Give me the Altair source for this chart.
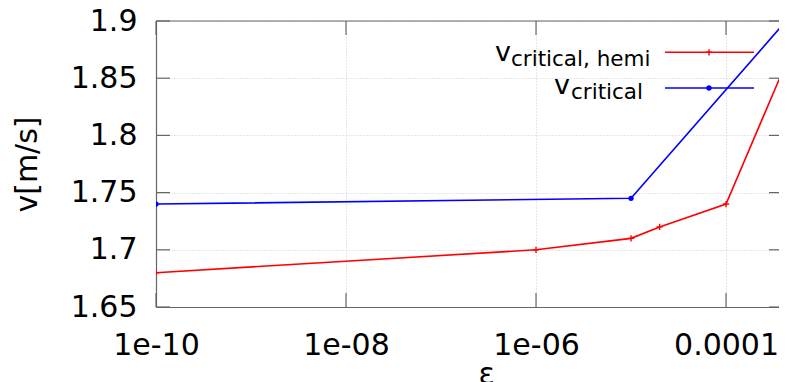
import altair as alt
import pandas as pd

# ---- data ----
eps_hemi = [1e-10, 1e-6, 1e-5, 2e-5, 1e-4, 1e-3]
v_hemi = [1.68, 1.70, 1.71, 1.72, 1.74, 1.935]
eps_crit = [1e-10, 1e-5, 1e-3]
v_crit = [1.74, 1.745, 1.935]

x_ticks = [1e-10, 1e-8, 1e-6, 1e-4]
x_tick_labels = ["1e-10", "1e-08", "1e-06", "0.0001"]
y_ticks = [1.65, 1.7, 1.75, 1.8, 1.85, 1.9]
y_tick_labels = ["1.65", "1.7", "1.75", "1.8", "1.85", "1.9"]

series_symbol = "v"
series_subs = ["critical, hemi", "critical"]
series_colors = ["#ff0000", "#0000ff"]

x_domain = [1e-10, 3.61e-4]
y_domain = [1.65, 1.9]

# ---- layout / style ----
W, H = 623, 286
FONT = "DejaVu Sans"
BORDER = "#666666"
GRID = "#cccccc"
CROSS = "M-1,0L1,0M0,-1L0,1"


def label_expr(values, labels, factor=None, delta=None):
    expr = f"'{labels[-1]}'"
    for v, l in reversed(list(zip(values[:-1], labels[:-1]))):
        thr = v * factor if factor else v + delta
        expr = f"datum.value < {thr!r} ? '{l}' : ({expr})"
    return expr


x_axis = alt.Axis(
    values=x_ticks, labelExpr=label_expr(x_ticks, x_tick_labels, factor=3),
    ticks=False, tickSize=0, domain=True, domainColor=BORDER, domainWidth=1.2,
    grid=True, gridDash=[1, 2],
    gridColor=GRID, gridWidth=1, labelFont=FONT, labelFontSize=30,
    labelColor="black", labelPadding=23, labelFlush=False, labelOverlap=False,
    title="ε", titleFont=FONT, titleFontSize=30, titleFontWeight="normal",
    titleColor="black", titleX=330, titleY=76, titleAlign="center",
    titleBaseline="alphabetic",
)
y_axis = alt.Axis(
    values=y_ticks, labelExpr=label_expr(y_ticks, y_tick_labels, delta=0.01),
    ticks=False, tickSize=0, domain=True, domainColor=BORDER, domainWidth=1.2,
    grid=True, gridDash=[1, 2],
    gridColor=GRID, gridWidth=1, labelFont=FONT, labelFontSize=30,
    labelColor="black", labelPadding=19, labelOverlap=False, labelFlush=False,
    title="v[m/s]", titleFont=FONT, titleFontSize=30, titleFontWeight="normal",
    titleColor="black", titleX=-129, titleY=143, titleAlign="center",
    titleBaseline="middle",
)

X = alt.X("eps:Q", scale=alt.Scale(type="log", domain=x_domain, nice=False), axis=x_axis)
Y = alt.Y("v:Q", scale=alt.Scale(domain=y_domain, nice=False, zero=False), axis=y_axis)

df_h = pd.DataFrame({"eps": eps_hemi, "v": v_hemi})
df_c = pd.DataFrame({"eps": eps_crit, "v": v_crit})
df_xt = pd.DataFrame({"eps": x_ticks})
df_yt = pd.DataFrame({"v": y_ticks})
one = pd.DataFrame({"k": [0]})

line_h = alt.Chart(df_h).mark_line(color=series_colors[0], strokeWidth=1.6, clip=True).encode(x=X, y=Y)
pts_h = alt.Chart(df_h).mark_point(shape=CROSS, size=40, color=series_colors[0], filled=False,
                                   strokeWidth=1.4, opacity=1, clip=True).encode(x=X, y=Y)
line_c = alt.Chart(df_c).mark_line(color=series_colors[1], strokeWidth=1.6, clip=True).encode(x=X, y=Y)
pts_c = alt.Chart(df_c).mark_point(shape="circle", size=28, color=series_colors[1], filled=True,
                                   opacity=1, clip=True).encode(x=X, y=Y)

tick_style = dict(color=BORDER, strokeWidth=1.2)
top_border = alt.Chart(one).mark_rule(**tick_style).encode(x=alt.value(0), x2=alt.value(W), y=alt.value(0))
left_ticks = alt.Chart(df_yt).mark_rule(**tick_style).encode(y=Y, x=alt.value(0), x2=alt.value(14))
right_ticks = alt.Chart(df_yt).mark_rule(**tick_style).encode(y=Y, x=alt.value(W - 10), x2=alt.value(W))
bottom_ticks = alt.Chart(df_xt).mark_rule(**tick_style).encode(x=X, y=alt.value(H), y2=alt.value(H - 14))
top_ticks = alt.Chart(df_xt).mark_rule(**tick_style).encode(x=X, y=alt.value(0), y2=alt.value(14))

# ---- key (legend) ----
key_rows = [
    dict(line_y=31.3, v_x=339, v_y=39.7, s_x=355, s_y=44.7),
    dict(line_y=67.0, v_x=398, v_y=73.0, s_x=415, s_y=78.3),
]
key_layers = []
for i, row in enumerate(key_rows):
    col = series_colors[i]
    key_layers.append(alt.Chart(one).mark_rule(color=col, strokeWidth=1.6).encode(
        x=alt.value(509), x2=alt.value(598), y=alt.value(row["line_y"])))
    if i == 0:
        key_layers.append(alt.Chart(one).mark_point(shape=CROSS, size=40, color=col, filled=False,
                                                    strokeWidth=1.4, opacity=1).encode(
            x=alt.value(553), y=alt.value(row["line_y"])))
    else:
        key_layers.append(alt.Chart(one).mark_point(shape="circle", size=28, color=col, filled=True,
                                                    opacity=1).encode(
            x=alt.value(553), y=alt.value(row["line_y"])))
    key_layers.append(alt.Chart(one).mark_text(text=series_symbol, align="left", baseline="alphabetic",
                                               font=FONT, fontSize=27, color="black").encode(
        x=alt.value(row["v_x"]), y=alt.value(row["v_y"])))
    key_layers.append(alt.Chart(one).mark_text(text=series_subs[i], align="left", baseline="alphabetic",
                                               font=FONT, fontSize=21.5, color="black").encode(
        x=alt.value(row["s_x"]), y=alt.value(row["s_y"])))

chart = alt.layer(
    line_h, pts_h, line_c, pts_c, top_border, left_ticks, right_ticks, bottom_ticks, top_ticks,
    *key_layers
).properties(
    width=W, height=H,
    autosize=alt.AutoSizeParams(type="none"),
    padding={"left": 148, "top": 13, "right": 0, "bottom": 75},
    background="white",
).configure_view(strokeWidth=0)

chart.save("out.html", embed_options={"renderer": "svg", "actions": False})
